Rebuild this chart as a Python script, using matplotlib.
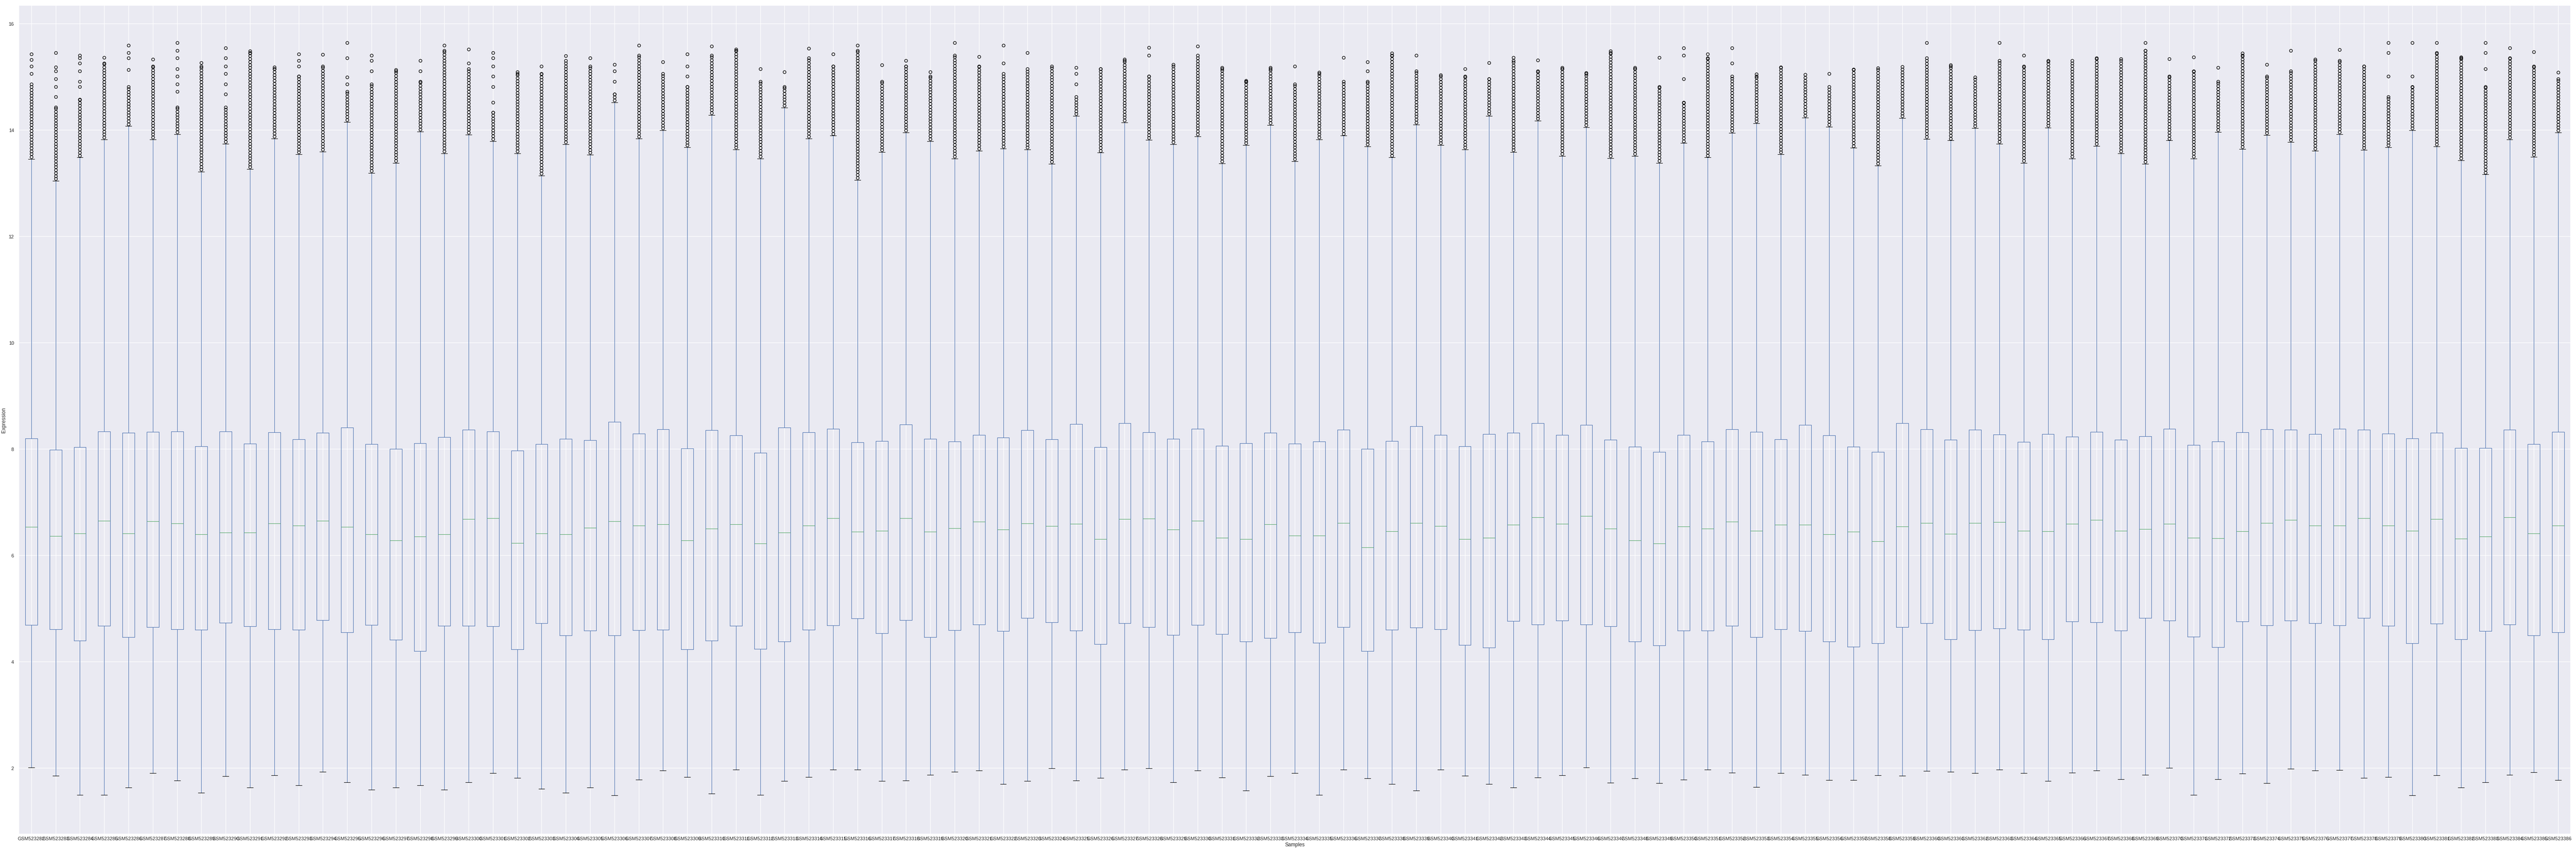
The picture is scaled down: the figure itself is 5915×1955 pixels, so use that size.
#!/usr/bin/env python
#  -*- coding: utf-8 -*-
"""
    Box plot of the expression values of every sample (GSM523282 - GSM523386).
    Box statistics are read off the reference picture; the outliers above the
    upper whisker are kept as the top of their dense stack plus the few
    isolated points above it.
"""
import numpy as np
import matplotlib
matplotlib.use("Agg")
import matplotlib.pyplot as plt

plt.rcParams["font.family"] = ["Liberation Sans", "DejaVu Sans"]

samples = ["GSM%d" % n for n in range(523282, 523387)]

whisker_hi = [
    13.45, 13.04, 13.48, 13.82, 14.07, 13.82, 13.92, 13.21, 13.74, 13.26,
    13.84, 13.54, 13.59, 14.15, 13.19, 13.38, 13.97, 13.56, 13.91, 13.79,
    13.56, 13.14, 13.73, 13.53, 14.52, 13.84, 13.99, 13.67, 14.28, 13.63,
    13.46, 14.42, 13.84, 13.89, 13.06, 13.58, 13.95, 13.79, 13.46, 13.61,
    13.65, 13.63, 13.36, 14.26, 13.57, 14.14, 13.81, 13.73, 13.88, 13.37,
    13.71, 14.09, 13.41, 13.82, 13.89, 13.69, 13.48, 14.10, 13.71, 13.63,
    14.26, 13.58, 14.17, 13.51, 14.05, 13.47, 13.51, 13.38, 13.75, 13.48,
    13.94, 14.12, 13.54, 14.23, 14.06, 13.66, 13.33, 14.22, 13.83, 13.80,
    14.03, 13.74, 13.38, 14.04, 13.46, 13.70, 13.56, 13.36, 13.80, 13.46,
    13.96, 13.64, 13.90, 13.77, 13.61, 13.92, 13.62, 13.67, 13.99, 13.69,
    13.43, 13.16, 13.82, 13.49, 13.95,
]
q3 = [
    8.20, 7.98, 8.03, 8.33, 8.30, 8.32, 8.33, 8.05, 8.33, 8.10,
    8.31, 8.18, 8.30, 8.40, 8.09, 8.00, 8.11, 8.22, 8.36, 8.33,
    7.97, 8.09, 8.19, 8.16, 8.51, 8.29, 8.37, 8.01, 8.35, 8.25,
    7.93, 8.40, 8.31, 8.38, 8.12, 8.15, 8.46, 8.19, 8.14, 8.26,
    8.21, 8.35, 8.18, 8.47, 8.03, 8.48, 8.31, 8.19, 8.38, 8.06,
    8.11, 8.30, 8.10, 8.14, 8.36, 8.00, 8.15, 8.43, 8.26, 8.05,
    8.28, 8.30, 8.48, 8.26, 8.45, 8.17, 8.04, 7.94, 8.26, 8.14,
    8.37, 8.32, 8.18, 8.45, 8.25, 8.04, 7.94, 8.48, 8.37, 8.17,
    8.36, 8.27, 8.13, 8.28, 8.23, 8.32, 8.17, 8.24, 8.38, 8.07,
    8.14, 8.31, 8.37, 8.36, 8.28, 8.38, 8.36, 8.29, 8.20, 8.30,
    8.02, 8.02, 8.36, 8.09, 8.32,
]
median = [
    6.53, 6.36, 6.41, 6.65, 6.41, 6.64, 6.60, 6.39, 6.43, 6.43,
    6.60, 6.56, 6.65, 6.53, 6.39, 6.28, 6.35, 6.39, 6.68, 6.70,
    6.23, 6.41, 6.39, 6.52, 6.64, 6.56, 6.58, 6.28, 6.50, 6.58,
    6.22, 6.43, 6.56, 6.70, 6.44, 6.46, 6.70, 6.44, 6.51, 6.63,
    6.48, 6.60, 6.55, 6.59, 6.30, 6.68, 6.69, 6.48, 6.65, 6.33,
    6.30, 6.58, 6.37, 6.37, 6.61, 6.15, 6.45, 6.61, 6.55, 6.30,
    6.33, 6.57, 6.71, 6.59, 6.74, 6.50, 6.28, 6.22, 6.54, 6.50,
    6.63, 6.46, 6.57, 6.57, 6.39, 6.44, 6.26, 6.54, 6.61, 6.40,
    6.61, 6.62, 6.46, 6.45, 6.59, 6.66, 6.46, 6.49, 6.59, 6.33,
    6.32, 6.45, 6.61, 6.66, 6.56, 6.56, 6.70, 6.56, 6.46, 6.68,
    6.31, 6.35, 6.71, 6.41, 6.56,
]
q1 = [
    4.69, 4.61, 4.39, 4.67, 4.46, 4.65, 4.61, 4.60, 4.73, 4.66,
    4.61, 4.60, 4.78, 4.55, 4.69, 4.41, 4.20, 4.67, 4.67, 4.66,
    4.23, 4.72, 4.49, 4.58, 4.49, 4.59, 4.60, 4.23, 4.39, 4.67,
    4.24, 4.38, 4.60, 4.68, 4.81, 4.53, 4.78, 4.46, 4.59, 4.70,
    4.57, 4.82, 4.74, 4.58, 4.33, 4.72, 4.65, 4.50, 4.69, 4.52,
    4.38, 4.44, 4.55, 4.35, 4.65, 4.20, 4.60, 4.64, 4.61, 4.31,
    4.26, 4.76, 4.70, 4.77, 4.70, 4.66, 4.38, 4.30, 4.58, 4.58,
    4.67, 4.46, 4.61, 4.57, 4.38, 4.28, 4.34, 4.65, 4.72, 4.42,
    4.59, 4.62, 4.60, 4.42, 4.75, 4.74, 4.58, 4.82, 4.77, 4.47,
    4.27, 4.75, 4.68, 4.77, 4.72, 4.68, 4.82, 4.67, 4.34, 4.71,
    4.42, 4.57, 4.70, 4.49, 4.55,
]
whisker_lo = [
    2.01, 1.85, 1.49, 1.49, 1.63, 1.90, 1.76, 1.53, 1.84, 1.63,
    1.86, 1.67, 1.93, 1.73, 1.59, 1.63, 1.67, 1.59, 1.73, 1.90,
    1.81, 1.61, 1.53, 1.63, 1.48, 1.78, 1.95, 1.83, 1.52, 1.97,
    1.49, 1.75, 1.83, 1.97, 1.97, 1.75, 1.76, 1.87, 1.93, 1.95,
    1.70, 1.75, 1.99, 1.76, 1.81, 1.97, 1.99, 1.73, 1.95, 1.82,
    1.57, 1.84, 1.90, 1.49, 1.97, 1.80, 1.70, 1.57, 1.97, 1.85,
    1.70, 1.63, 1.82, 1.86, 2.01, 1.72, 1.80, 1.71, 1.78, 1.97,
    1.91, 1.64, 1.90, 1.87, 1.77, 1.77, 1.86, 1.85, 1.94, 1.93,
    1.90, 1.97, 1.90, 1.75, 1.91, 1.95, 1.79, 1.87, 2.00, 1.49,
    1.79, 1.89, 1.71, 1.98, 1.95, 1.96, 1.81, 1.83, 1.48, 1.86,
    1.63, 1.73, 1.87, 1.92, 1.77,
]
# top of the continuous stack of outlier circles above each upper whisker
flier_dense_top = [
    14.86, 14.43, 14.57, 15.25, 14.81, 15.20, 14.43, 15.20, 14.43, 15.45,
    15.15, 15.01, 15.20, 14.72, 14.86, 15.11, 14.91, 15.49, 15.15, 14.33,
    15.06, 15.06, 15.30, 15.20, 14.67, 15.40, 15.06, 14.81, 15.40, 15.49,
    14.91, 14.81, 15.35, 15.20, 15.49, 14.91, 15.20, 15.01, 15.40, 15.20,
    15.06, 15.15, 15.20, 14.62, 15.15, 15.30, 15.01, 15.20, 15.40, 15.15,
    14.91, 15.15, 14.86, 15.06, 14.91, 14.91, 15.40, 15.11, 15.01, 15.01,
    14.96, 15.30, 15.11, 15.15, 15.06, 15.45, 15.15, 14.81, 14.52, 15.35,
    15.01, 15.01, 15.18, 15.04, 14.81, 15.14, 15.16, 15.19, 15.35, 15.20,
    14.99, 15.30, 15.20, 15.30, 15.25, 15.35, 15.34, 15.49, 15.01, 15.11,
    14.91, 15.40, 15.01, 15.11, 15.33, 15.30, 15.20, 14.62, 14.81, 15.45,
    15.35, 14.81, 15.35, 15.20, 14.96,
]
# isolated outliers above the dense stack
flier_sparse = [
    [15.06, 15.20, 15.32, 15.43], [14.62, 14.81, 14.96, 15.11, 15.18, 15.45],
    [14.81, 14.91, 15.11, 15.25, 15.35, 15.40], [15.36],
    [15.13, 15.35, 15.45, 15.59], [15.33],
    [14.72, 14.86, 15.01, 15.15, 15.35, 15.49, 15.64], [15.26],
    [14.67, 14.86, 15.06, 15.20, 15.35, 15.54], [15.48],
    [15.18], [15.20, 15.30, 15.43], [15.42], [14.86, 14.99, 15.35, 15.64],
    [15.11, 15.30, 15.40], [15.13], [15.11, 15.30], [15.59],
    [15.25, 15.52], [14.52, 14.81, 15.01, 15.20, 15.35, 15.45],
    [15.09], [15.20], [15.39], [15.35], [14.91, 15.11, 15.23], [15.59],
    [15.28], [15.01, 15.20, 15.43], [15.57], [15.52],
    [15.15], [15.09], [15.53], [15.43], [15.59], [15.22], [15.30], [15.09],
    [15.64], [15.38],
    [15.25, 15.59], [15.45], [], [14.86, 15.06, 15.17], [], [15.33],
    [15.40, 15.55], [15.23], [15.57], [15.17],
    [14.93], [15.17], [15.20], [15.08], [15.36], [15.11, 15.28], [15.44],
    [15.40], [15.03], [15.15],
    [15.26], [15.36], [15.31], [15.17], [15.07], [15.48], [15.17], [15.36],
    [14.96, 15.40, 15.54], [15.43],
    [15.25, 15.54], [15.05], [], [], [15.06], [], [], [], [15.64], [15.22],
    [], [15.64], [15.40], [], [15.30], [], [], [15.64], [15.34], [15.37],
    [15.17], [15.44], [15.23], [15.49], [], [15.51], [],
    [15.01, 15.45, 15.64], [15.01, 15.64], [15.64],
    [15.37], [15.15, 15.45, 15.64], [15.54], [15.47], [15.08],
]

BLUE = "#4C72B0"
GREEN = "#55A868"


def build_stats():
    stats = []
    for i, name in enumerate(samples):
        # the stack holds hundreds of overlapping circles; draw it at marker pitch
        stack = np.arange(whisker_hi[i] + 0.04, flier_dense_top[i], 0.055)
        fliers = np.concatenate([stack, [flier_dense_top[i]], flier_sparse[i]])
        stats.append(dict(label=name, whislo=whisker_lo[i], q1=q1[i],
                          med=median[i], q3=q3[i], whishi=whisker_hi[i],
                          fliers=fliers))
    return stats


def main():
    fig = plt.figure(figsize=(59.15, 19.56), dpi=100)
    ax = fig.add_axes([44 / 5915, 42 / 1956, 5858 / 5915, 1900 / 1956])
    ax.set_facecolor("#EAEAF2")
    for spine in ax.spines.values():
        spine.set_visible(False)
    ax.grid(True, color="white", linewidth=0.9)
    ax.set_axisbelow(True)

    ax.bxp(
        build_stats(),
        positions=range(1, len(samples) + 1),
        widths=0.5,
        boxprops=dict(color=BLUE, linewidth=0.8),
        whiskerprops=dict(color=BLUE, linewidth=0.8),
        capprops=dict(color="black", linewidth=0.8),
        medianprops=dict(color=GREEN, linewidth=0.8),
        flierprops=dict(marker="o", markerfacecolor="none",
                        markeredgecolor="black", markersize=4.8,
                        markeredgewidth=0.95, linestyle="none"),
    )

    ax.set_xlim(0.5, len(samples) + 0.5)
    ax.set_ylim(0.762, 16.336)
    ax.set_yticks(range(2, 17, 2))
    ax.tick_params(axis="both", length=0, labelsize=8, colors="#262626")
    ax.tick_params(axis="x", pad=4.5)
    ax.tick_params(axis="y", pad=8.6)
    ax.set_xlabel("Samples", fontsize=8.5, color="#262626", labelpad=2)
    ax.set_ylabel("Expression", fontsize=8.5, color="#262626", labelpad=3)

    fig.savefig("out.png", dpi=100)


if __name__ == "__main__":
    main()
